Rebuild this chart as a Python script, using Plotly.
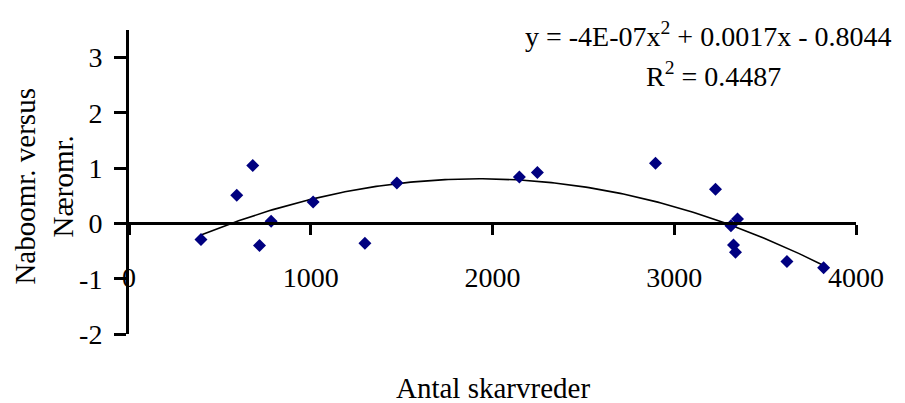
"""Scatter with a 2nd-order polynomial trendline, Excel look."""

import numpy as np
import plotly.graph_objects as go

# Data
skarvreder = [396, 593, 681, 718, 782, 1013, 1298, 1474, 2148, 2247,
              2897, 3227, 3348, 3312, 3326, 3337, 3620, 3822]
forhold = [-0.29, 0.51, 1.05, -0.40, 0.04, 0.39, -0.36, 0.73, 0.84, 0.92,
           1.09, 0.62, 0.08, -0.04, -0.39, -0.52, -0.69, -0.80]

x_ticks = [0, 1000, 2000, 3000, 4000]
y_ticks = [-2, -1, 0, 1, 2, 3]

FONT = "Liberation Serif, Times New Roman, serif"

# Polynomial trendline (order 2), fitted to the points
coef = np.polyfit(skarvreder, forhold, 2)
trend_x = np.linspace(min(skarvreder), max(skarvreder), 200)
trend_y = np.polyval(coef, trend_x)

fig = go.Figure()

fig.add_trace(go.Scatter(
    x=trend_x,
    y=trend_y,
    mode="lines",
    line=dict(color="#000000", width=1.6),
    hoverinfo="skip",
))

fig.add_trace(go.Scatter(
    x=skarvreder,
    y=forhold,
    mode="markers",
    marker=dict(symbol="diamond", size=10, color="#000080"),
))

y_min, y_max = -2, 3.5

fig.update_layout(
    width=905,
    height=403,
    showlegend=False,
    plot_bgcolor="#ffffff",
    paper_bgcolor="#ffffff",
    font=dict(family=FONT, size=28, color="#000000"),
    margin=dict(l=129, r=49, t=30, b=69),
    xaxis=dict(
        range=[0, 4000],
        tickvals=x_ticks,
        ticktext=[str(v) for v in x_ticks],
        showgrid=False,
        zeroline=False,
        showline=True,
        linecolor="#000000",
        linewidth=3,
        ticks="outside",
        ticklen=10,
        tickwidth=3,
        tickcolor="#000000",
        anchor="free",
        position=(0 - y_min) / (y_max - y_min),
        ticklabelstandoff=18,
        automargin=False,
    ),
    yaxis=dict(
        range=[y_min, y_max],
        tickvals=y_ticks,
        ticktext=[str(v) for v in y_ticks],
        showgrid=False,
        zeroline=False,
        showline=True,
        linecolor="#000000",
        linewidth=3,
        ticks="outside",
        ticklen=12,
        tickwidth=3,
        tickcolor="#000000",
        ticklabelstandoff=6,
        automargin=False,
    ),
)

# Axis titles
fig.add_annotation(
    text="Antal skarvreder",
    xref="paper", yref="paper", x=0.5, y=-0.176,
    xanchor="center", yanchor="middle", showarrow=False,
    font=dict(size=29),
)
fig.add_annotation(
    text="Naboomr. versus<br>Næromr.",
    xref="paper", yref="paper", x=-0.117, y=0.488,
    xanchor="center", yanchor="middle", showarrow=False,
    textangle=-90,
    font=dict(size=29),
)

# Trendline equation and R squared
fig.add_annotation(
    text="y = -4E-07x<sup>2</sup> + 0.0017x - 0.8044",
    xref="paper", yref="paper", x=0.797, y=0.986,
    xanchor="center", yanchor="middle", showarrow=False,
    font=dict(size=28),
)
fig.add_annotation(
    text="R<sup>2</sup> = 0.4487",
    xref="paper", yref="paper", x=0.804, y=0.853,
    xanchor="center", yanchor="middle", showarrow=False,
    font=dict(size=28),
)

# drop the browser's default body margin so the figure sits at the corner
fig.write_html(
    "out.html",
    config={"displayModeBar": False},
    post_script="document.body.style.margin = '0';",
)
